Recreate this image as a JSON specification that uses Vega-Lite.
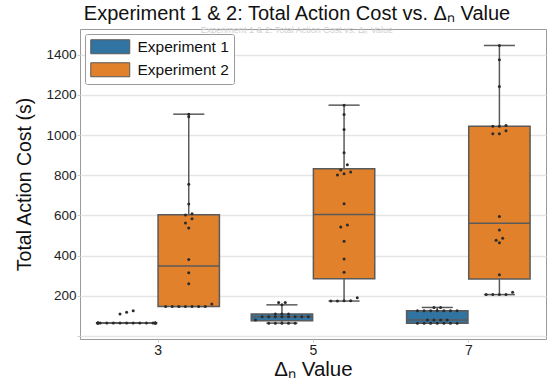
{
  "$schema": "https://vega.github.io/schema/vega-lite/v6.json",
  "width": 466,
  "height": 310,
  "autosize": {"type": "none"},
  "padding": {"left": 80, "top": 29, "right": 7, "bottom": 48},
  "background": "white",
  "config": {
    "font": "Liberation Sans",
    "view": {"stroke": "#9a9a9a", "strokeWidth": 1},
    "axisX": {"domain": false, "grid": false, "tickSize": 3, "tickColor": "#cccccc", "labelFontSize": 14, "labelColor": "#222222", "labelPadding": 1, "titleFontSize": 20.5, "titleFontWeight": "normal", "titleColor": "#111111", "titlePadding": 2},
    "axisY": {"domain": false, "grid": true, "gridColor": "#e5e5e5", "gridWidth": 1.5, "tickSize": 3, "tickColor": "#cccccc", "labelFontSize": 13.5, "labelColor": "#222222", "labelPadding": 1, "titleFontSize": 19.5, "titleFontWeight": "normal", "titleColor": "#111111", "titlePadding": 11}
  },
  "title": {
    "text": "Experiment 1 & 2: Total Action Cost vs. Δₙ Value",
    "subtitle": "Experiment 1 & 2: Total Action Cost vs. Δₙ Value",
    "fontSize": 20,
    "fontWeight": "normal",
    "color": "#111111",
    "subtitleFontSize": 9,
    "subtitleColor": "#d0d0d0",
    "subtitlePadding": 2,
    "anchor": "middle",
    "dx": -16,
    "offset": -6
  },
  "data": {
    "values": [
      {"delta": 3, "experiment": "Experiment 1", "cost": 65},
      {"delta": 3, "experiment": "Experiment 1", "cost": 65},
      {"delta": 3, "experiment": "Experiment 1", "cost": 65},
      {"delta": 3, "experiment": "Experiment 1", "cost": 65},
      {"delta": 3, "experiment": "Experiment 1", "cost": 65},
      {"delta": 3, "experiment": "Experiment 1", "cost": 65},
      {"delta": 3, "experiment": "Experiment 1", "cost": 65},
      {"delta": 3, "experiment": "Experiment 1", "cost": 65},
      {"delta": 3, "experiment": "Experiment 1", "cost": 65},
      {"delta": 3, "experiment": "Experiment 1", "cost": 65},
      {"delta": 3, "experiment": "Experiment 1", "cost": 65},
      {"delta": 3, "experiment": "Experiment 1", "cost": 65},
      {"delta": 3, "experiment": "Experiment 1", "cost": 65},
      {"delta": 3, "experiment": "Experiment 1", "cost": 65},
      {"delta": 3, "experiment": "Experiment 1", "cost": 65},
      {"delta": 3, "experiment": "Experiment 1", "cost": 65},
      {"delta": 3, "experiment": "Experiment 1", "cost": 65},
      {"delta": 3, "experiment": "Experiment 1", "cost": 110},
      {"delta": 3, "experiment": "Experiment 1", "cost": 118},
      {"delta": 3, "experiment": "Experiment 1", "cost": 125},
      {"delta": 3, "experiment": "Experiment 2", "cost": 147},
      {"delta": 3, "experiment": "Experiment 2", "cost": 147},
      {"delta": 3, "experiment": "Experiment 2", "cost": 147},
      {"delta": 3, "experiment": "Experiment 2", "cost": 147},
      {"delta": 3, "experiment": "Experiment 2", "cost": 147},
      {"delta": 3, "experiment": "Experiment 2", "cost": 147},
      {"delta": 3, "experiment": "Experiment 2", "cost": 147},
      {"delta": 3, "experiment": "Experiment 2", "cost": 159},
      {"delta": 3, "experiment": "Experiment 2", "cost": 260},
      {"delta": 3, "experiment": "Experiment 2", "cost": 315},
      {"delta": 3, "experiment": "Experiment 2", "cost": 381},
      {"delta": 3, "experiment": "Experiment 2", "cost": 537},
      {"delta": 3, "experiment": "Experiment 2", "cost": 563},
      {"delta": 3, "experiment": "Experiment 2", "cost": 583},
      {"delta": 3, "experiment": "Experiment 2", "cost": 602},
      {"delta": 3, "experiment": "Experiment 2", "cost": 608},
      {"delta": 3, "experiment": "Experiment 2", "cost": 657},
      {"delta": 3, "experiment": "Experiment 2", "cost": 755},
      {"delta": 3, "experiment": "Experiment 2", "cost": 1091},
      {"delta": 3, "experiment": "Experiment 2", "cost": 1104},
      {"delta": 5, "experiment": "Experiment 1", "cost": 64},
      {"delta": 5, "experiment": "Experiment 1", "cost": 64},
      {"delta": 5, "experiment": "Experiment 1", "cost": 64},
      {"delta": 5, "experiment": "Experiment 1", "cost": 64},
      {"delta": 5, "experiment": "Experiment 1", "cost": 64},
      {"delta": 5, "experiment": "Experiment 1", "cost": 80},
      {"delta": 5, "experiment": "Experiment 1", "cost": 96},
      {"delta": 5, "experiment": "Experiment 1", "cost": 96},
      {"delta": 5, "experiment": "Experiment 1", "cost": 96},
      {"delta": 5, "experiment": "Experiment 1", "cost": 96},
      {"delta": 5, "experiment": "Experiment 1", "cost": 96},
      {"delta": 5, "experiment": "Experiment 1", "cost": 96},
      {"delta": 5, "experiment": "Experiment 1", "cost": 96},
      {"delta": 5, "experiment": "Experiment 1", "cost": 96},
      {"delta": 5, "experiment": "Experiment 1", "cost": 109},
      {"delta": 5, "experiment": "Experiment 1", "cost": 109},
      {"delta": 5, "experiment": "Experiment 1", "cost": 109},
      {"delta": 5, "experiment": "Experiment 1", "cost": 155},
      {"delta": 5, "experiment": "Experiment 1", "cost": 167},
      {"delta": 5, "experiment": "Experiment 1", "cost": 167},
      {"delta": 5, "experiment": "Experiment 2", "cost": 174},
      {"delta": 5, "experiment": "Experiment 2", "cost": 174},
      {"delta": 5, "experiment": "Experiment 2", "cost": 175},
      {"delta": 5, "experiment": "Experiment 2", "cost": 176},
      {"delta": 5, "experiment": "Experiment 2", "cost": 190},
      {"delta": 5, "experiment": "Experiment 2", "cost": 317},
      {"delta": 5, "experiment": "Experiment 2", "cost": 383},
      {"delta": 5, "experiment": "Experiment 2", "cost": 471},
      {"delta": 5, "experiment": "Experiment 2", "cost": 542},
      {"delta": 5, "experiment": "Experiment 2", "cost": 552},
      {"delta": 5, "experiment": "Experiment 2", "cost": 658},
      {"delta": 5, "experiment": "Experiment 2", "cost": 801},
      {"delta": 5, "experiment": "Experiment 2", "cost": 807},
      {"delta": 5, "experiment": "Experiment 2", "cost": 816},
      {"delta": 5, "experiment": "Experiment 2", "cost": 826},
      {"delta": 5, "experiment": "Experiment 2", "cost": 852},
      {"delta": 5, "experiment": "Experiment 2", "cost": 912},
      {"delta": 5, "experiment": "Experiment 2", "cost": 1028},
      {"delta": 5, "experiment": "Experiment 2", "cost": 1103},
      {"delta": 5, "experiment": "Experiment 2", "cost": 1149},
      {"delta": 7, "experiment": "Experiment 1", "cost": 64},
      {"delta": 7, "experiment": "Experiment 1", "cost": 64},
      {"delta": 7, "experiment": "Experiment 1", "cost": 64},
      {"delta": 7, "experiment": "Experiment 1", "cost": 64},
      {"delta": 7, "experiment": "Experiment 1", "cost": 64},
      {"delta": 7, "experiment": "Experiment 1", "cost": 64},
      {"delta": 7, "experiment": "Experiment 1", "cost": 64},
      {"delta": 7, "experiment": "Experiment 1", "cost": 80},
      {"delta": 7, "experiment": "Experiment 1", "cost": 80},
      {"delta": 7, "experiment": "Experiment 1", "cost": 80},
      {"delta": 7, "experiment": "Experiment 1", "cost": 80},
      {"delta": 7, "experiment": "Experiment 1", "cost": 125},
      {"delta": 7, "experiment": "Experiment 1", "cost": 125},
      {"delta": 7, "experiment": "Experiment 1", "cost": 125},
      {"delta": 7, "experiment": "Experiment 1", "cost": 125},
      {"delta": 7, "experiment": "Experiment 1", "cost": 125},
      {"delta": 7, "experiment": "Experiment 1", "cost": 125},
      {"delta": 7, "experiment": "Experiment 1", "cost": 125},
      {"delta": 7, "experiment": "Experiment 1", "cost": 142},
      {"delta": 7, "experiment": "Experiment 1", "cost": 142},
      {"delta": 7, "experiment": "Experiment 2", "cost": 206},
      {"delta": 7, "experiment": "Experiment 2", "cost": 206},
      {"delta": 7, "experiment": "Experiment 2", "cost": 206},
      {"delta": 7, "experiment": "Experiment 2", "cost": 206},
      {"delta": 7, "experiment": "Experiment 2", "cost": 218},
      {"delta": 7, "experiment": "Experiment 2", "cost": 305},
      {"delta": 7, "experiment": "Experiment 2", "cost": 464},
      {"delta": 7, "experiment": "Experiment 2", "cost": 476},
      {"delta": 7, "experiment": "Experiment 2", "cost": 487},
      {"delta": 7, "experiment": "Experiment 2", "cost": 527},
      {"delta": 7, "experiment": "Experiment 2", "cost": 595},
      {"delta": 7, "experiment": "Experiment 2", "cost": 1007},
      {"delta": 7, "experiment": "Experiment 2", "cost": 1007},
      {"delta": 7, "experiment": "Experiment 2", "cost": 1021},
      {"delta": 7, "experiment": "Experiment 2", "cost": 1044},
      {"delta": 7, "experiment": "Experiment 2", "cost": 1044},
      {"delta": 7, "experiment": "Experiment 2", "cost": 1048},
      {"delta": 7, "experiment": "Experiment 2", "cost": 1242},
      {"delta": 7, "experiment": "Experiment 2", "cost": 1375},
      {"delta": 7, "experiment": "Experiment 2", "cost": 1446}
    ]
  },
  "transform": [
    {"calculate": "datum.delta + (datum.experiment == 'Experiment 1' ? -0.4 : 0.4)", "as": "xc"}
  ],
  "layer": [
    {
      "transform": [
        {"joinaggregate": [
          {"op": "q1", "field": "cost", "as": "q1"},
          {"op": "q3", "field": "cost", "as": "q3"},
          {"op": "median", "field": "cost", "as": "med"}
        ], "groupby": ["delta", "experiment"]},
        {"calculate": "datum.q3 + 1.5 * (datum.q3 - datum.q1)", "as": "hiF"},
        {"calculate": "datum.q1 - 1.5 * (datum.q3 - datum.q1)", "as": "loF"},
        {"filter": "datum.cost >= datum.loF && datum.cost <= datum.hiF"},
        {"aggregate": [
          {"op": "min", "field": "cost", "as": "wmin"},
          {"op": "max", "field": "cost", "as": "wmax"},
          {"op": "min", "field": "q1", "as": "q1"},
          {"op": "min", "field": "q3", "as": "q3"},
          {"op": "min", "field": "med", "as": "med"}
        ], "groupby": ["delta", "experiment", "xc"]},
        {"calculate": "datum.xc - 0.395", "as": "bl"},
        {"calculate": "datum.xc + 0.395", "as": "br"},
        {"calculate": "datum.xc - 0.2", "as": "cl"},
        {"calculate": "datum.xc + 0.2", "as": "cr"}
      ],
      "layer": [
        {
          "mark": {"type": "rule", "color": "#5a5a5a", "strokeWidth": 1.5},
          "encoding": {
            "x": {"field": "xc", "type": "quantitative", "scale": {"domain": [2, 8], "nice": false, "zero": false}, "axis": {"values": [3, 5, 7], "format": "d", "title": "Δₙ Value"}},
            "y": {"field": "wmin", "type": "quantitative", "scale": {"domain": [-15, 1528], "nice": false, "zero": false}, "axis": {"values": [0, 200, 400, 600, 800, 1000, 1200, 1400], "format": "d", "labelExpr": "datum.value == 0 ? '' : datum.label", "title": "Total Action Cost (s)"}},
            "y2": {"field": "q1"}
          }
        },
        {
          "mark": {"type": "rule", "color": "#5a5a5a", "strokeWidth": 1.5},
          "encoding": {
            "x": {"field": "xc", "type": "quantitative", "scale": {"domain": [2, 8], "nice": false, "zero": false}, "title": "Δₙ Value"},
            "y": {"field": "q3", "type": "quantitative", "scale": {"domain": [-15, 1528], "nice": false, "zero": false}, "title": "Total Action Cost (s)"},
            "y2": {"field": "wmax"}
          }
        },
        {
          "mark": {"type": "rule", "color": "#5a5a5a", "strokeWidth": 1.5},
          "encoding": {
            "x": {"field": "cl", "type": "quantitative", "scale": {"domain": [2, 8], "nice": false, "zero": false}, "title": "Δₙ Value"},
            "x2": {"field": "cr"},
            "y": {"field": "wmax", "type": "quantitative", "scale": {"domain": [-15, 1528], "nice": false, "zero": false}, "title": "Total Action Cost (s)"}
          }
        },
        {
          "mark": {"type": "rule", "color": "#5a5a5a", "strokeWidth": 1.5},
          "encoding": {
            "x": {"field": "cl", "type": "quantitative", "scale": {"domain": [2, 8], "nice": false, "zero": false}, "title": "Δₙ Value"},
            "x2": {"field": "cr"},
            "y": {"field": "wmin", "type": "quantitative", "scale": {"domain": [-15, 1528], "nice": false, "zero": false}, "title": "Total Action Cost (s)"}
          }
        },
        {
          "mark": {"type": "rect", "stroke": "#5a5a5a", "strokeWidth": 1.5, "opacity": 1},
          "encoding": {
            "x": {"field": "bl", "type": "quantitative", "scale": {"domain": [2, 8], "nice": false, "zero": false}, "title": "Δₙ Value"},
            "x2": {"field": "br"},
            "y": {"field": "q1", "type": "quantitative", "scale": {"domain": [-15, 1528], "nice": false, "zero": false}, "title": "Total Action Cost (s)"},
            "y2": {"field": "q3"},
            "color": {
              "field": "experiment", "type": "nominal",
              "scale": {"domain": ["Experiment 1", "Experiment 2"], "range": ["#3274a1", "#e1812c"]},
              "legend": {
                "title": null,
                "orient": "none",
                "legendX": 5,
                "legendY": 5,
                "symbolType": "M-1,-1H4.571V1H-1Z",
                "symbolSize": 196,
                "symbolStrokeColor": "#5a5a5a",
                "symbolStrokeWidth": 1,
                "symbolOpacity": 1,
                "labelFontSize": 15.5,
                "labelColor": "#111111",
                "labelOffset": 32,
                "rowPadding": 4,
                "padding": 5,
                "strokeColor": "#9a9a9a",
                "fillColor": "white",
                "cornerRadius": 2
              }
            }
          }
        },
        {
          "mark": {"type": "rule", "color": "#5a5a5a", "strokeWidth": 1.5},
          "encoding": {
            "x": {"field": "bl", "type": "quantitative", "scale": {"domain": [2, 8], "nice": false, "zero": false}, "title": "Δₙ Value"},
            "x2": {"field": "br"},
            "y": {"field": "med", "type": "quantitative", "scale": {"domain": [-15, 1528], "nice": false, "zero": false}, "title": "Total Action Cost (s)"}
          }
        }
      ]
    },
    {
      "transform": [
        {"calculate": "round(datum.cost / 30)", "as": "vbin"},
        {"window": [{"op": "row_number", "as": "rk"}, {"op": "count", "as": "n"}], "groupby": ["delta", "experiment", "vbin"], "sort": [{"field": "cost", "order": "ascending"}], "frame": [null, null]},
        {"calculate": "datum.xc + clamp((datum.rk - (datum.n + 1) / 2) * 0.085, -0.37, 0.37)", "as": "xp"}
      ],
      "mark": {"type": "point", "filled": true, "color": "#2b2b2b", "size": 9, "opacity": 1},
      "encoding": {
        "x": {"field": "xp", "type": "quantitative", "scale": {"domain": [2, 8], "nice": false, "zero": false}, "title": "Δₙ Value"},
        "y": {"field": "cost", "type": "quantitative", "scale": {"domain": [-15, 1528], "nice": false, "zero": false}, "title": "Total Action Cost (s)"}
      }
    }
  ]
}
